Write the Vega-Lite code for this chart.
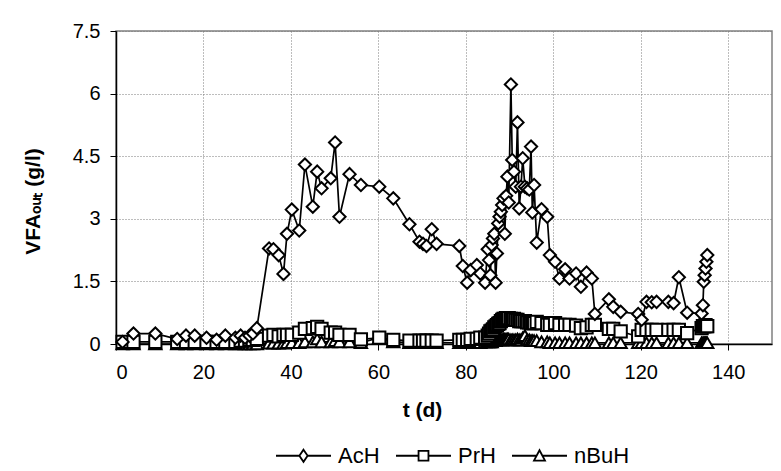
{
  "$schema": "https://vega.github.io/schema/vega-lite/v6.json",
  "width": 656,
  "height": 313,
  "autosize": {"type": "none"},
  "padding": {"left": 116, "top": 31, "right": 9, "bottom": 127},
  "background": "white",
  "config": {
    "font": "Liberation Sans",
    "view": {"stroke": "#808080", "strokeWidth": 1.5},
    "axis": {
      "domainColor": "black",
      "domainWidth": 1.5,
      "tickColor": "black",
      "tickSize": 6,
      "tickWidth": 1,
      "grid": true,
      "gridColor": "#7a7a7a",
      "gridDash": [1, 2],
      "gridWidth": 1,
      "labelFont": "Liberation Sans",
      "labelFontSize": 20,
      "labelColor": "black",
      "titleFont": "Liberation Sans",
      "titleFontSize": 21,
      "titleFontWeight": "bold",
      "titleColor": "black"
    }
  },
  "data": {
    "values": [
      {"t": 1.5, "AcH": 0.05, "PrH": 0.05, "nBuH": 0},
      {"t": 4, "AcH": 0.25, "PrH": 0.05, "nBuH": 0},
      {"t": 9, "AcH": 0.25, "PrH": 0.05, "nBuH": 0},
      {"t": 14, "AcH": 0.12, "PrH": 0.05, "nBuH": 0},
      {"t": 16, "AcH": 0.2, "PrH": 0.05, "nBuH": 0},
      {"t": 18, "AcH": 0.2, "PrH": 0.05, "nBuH": 0},
      {"t": 20.7, "AcH": 0.15, "PrH": 0.05, "nBuH": 0},
      {"t": 23, "AcH": 0.1, "PrH": 0.05, "nBuH": 0},
      {"t": 25, "AcH": 0.2, "PrH": 0.05, "nBuH": 0},
      {"t": 27.3, "AcH": 0.15, "PrH": 0.05, "nBuH": 0},
      {"t": 28.5, "AcH": 0.2, "PrH": 0.08, "nBuH": 0},
      {"t": 29.5, "AcH": 0.15, "PrH": 0.08, "nBuH": 0},
      {"t": 30.5, "AcH": 0.2, "PrH": 0.1, "nBuH": 0},
      {"t": 31.3, "AcH": 0.25, "PrH": 0.1, "nBuH": 0},
      {"t": 32.2, "AcH": 0.38, "PrH": 0.12, "nBuH": 0},
      {"t": 35, "AcH": 2.29, "PrH": 0.2, "nBuH": 0.02},
      {"t": 36, "AcH": 2.27, "PrH": 0.22, "nBuH": 0.02},
      {"t": 37.2, "AcH": 2.13, "PrH": 0.18, "nBuH": 0.02},
      {"t": 38.3, "AcH": 1.68, "PrH": 0.22, "nBuH": 0.02},
      {"t": 39.1, "AcH": 2.64, "PrH": 0.22, "nBuH": 0.03},
      {"t": 40.2, "AcH": 3.22, "PrH": 0.22, "nBuH": 0.03},
      {"t": 41.9, "AcH": 2.72, "PrH": 0.27, "nBuH": 0.03},
      {"t": 43.2, "AcH": 4.3, "PrH": 0.36, "nBuH": 0.05},
      {"t": 45, "AcH": 3.29, "PrH": 0.38, "nBuH": 0.05},
      {"t": 46, "AcH": 4.13, "PrH": 0.41, "nBuH": 0.12},
      {"t": 47, "AcH": 3.73, "PrH": 0.36, "nBuH": 0.05},
      {"t": 49.1, "AcH": 3.97, "PrH": 0.27, "nBuH": 0.05},
      {"t": 50.1, "AcH": 4.83, "PrH": 0.27, "nBuH": 0.08},
      {"t": 51.1, "AcH": 3.05, "PrH": 0.22, "nBuH": 0.05},
      {"t": 53.4, "AcH": 4.07, "PrH": 0.22, "nBuH": 0.05},
      {"t": 56, "AcH": 3.81, "PrH": 0.11, "nBuH": 0.03},
      {"t": 60.2, "AcH": 3.77, "PrH": 0.15, "nBuH": 0.15},
      {"t": 63.4, "AcH": 3.49, "PrH": 0.1, "nBuH": 0.05},
      {"t": 67.1, "AcH": 2.87, "PrH": 0.08, "nBuH": 0.03},
      {"t": 69.4, "AcH": 2.45, "PrH": 0.08, "nBuH": 0.03},
      {"t": 70.2, "AcH": 2.4, "PrH": 0.08, "nBuH": 0.03},
      {"t": 71, "AcH": 2.35, "PrH": 0.08, "nBuH": 0.03},
      {"t": 72.2, "AcH": 2.75, "PrH": 0.08, "nBuH": 0.03},
      {"t": 73.3, "AcH": 2.4, "PrH": 0.08, "nBuH": 0.03},
      {"t": 78.5, "AcH": 2.35, "PrH": 0.1, "nBuH": 0.03},
      {"t": 79.3, "AcH": 1.87, "PrH": 0.1, "nBuH": 0.03},
      {"t": 80.3, "AcH": 1.47, "PrH": 0.1, "nBuH": 0.03},
      {"t": 81.1, "AcH": 1.77, "PrH": 0.12, "nBuH": 0.03},
      {"t": 82.5, "AcH": 1.89, "PrH": 0.12, "nBuH": 0.03},
      {"t": 83.3, "AcH": 1.69, "PrH": 0.15, "nBuH": 0.03},
      {"t": 84.4, "AcH": 1.47, "PrH": 0.15, "nBuH": 0.05},
      {"t": 85, "AcH": 2.27, "PrH": 0.2, "nBuH": 0.05},
      {"t": 85.3, "AcH": 2.01, "PrH": 0.25, "nBuH": 0.05},
      {"t": 85.6, "AcH": 1.65, "PrH": 0.3, "nBuH": 0.05},
      {"t": 85.9, "AcH": 2.37, "PrH": 0.32, "nBuH": 0.05},
      {"t": 86.2, "AcH": 2.53, "PrH": 0.35, "nBuH": 0.08},
      {"t": 86.5, "AcH": 2.64, "PrH": 0.4, "nBuH": 0.08},
      {"t": 86.8, "AcH": 1.47, "PrH": 0.42, "nBuH": 0.08},
      {"t": 87.1, "AcH": 2.17, "PrH": 0.45, "nBuH": 0.1},
      {"t": 87.4, "AcH": 2.89, "PrH": 0.48, "nBuH": 0.1},
      {"t": 87.7, "AcH": 3.05, "PrH": 0.5, "nBuH": 0.1},
      {"t": 88, "AcH": 3.17, "PrH": 0.55, "nBuH": 0.1},
      {"t": 88.3, "AcH": 3.33, "PrH": 0.58, "nBuH": 0.1},
      {"t": 88.6, "AcH": 3.49, "PrH": 0.6, "nBuH": 0.12},
      {"t": 88.9, "AcH": 2.64, "PrH": 0.6, "nBuH": 0.12},
      {"t": 89.2, "AcH": 3.55, "PrH": 0.62, "nBuH": 0.12},
      {"t": 89.5, "AcH": 4.01, "PrH": 0.6, "nBuH": 0.12},
      {"t": 89.8, "AcH": 3.39, "PrH": 0.62, "nBuH": 0.12},
      {"t": 90.3, "AcH": 6.22, "PrH": 0.6, "nBuH": 0.1},
      {"t": 90.6, "AcH": 4.41, "PrH": 0.58, "nBuH": 0.1},
      {"t": 91, "AcH": 4.13, "PrH": 0.6, "nBuH": 0.1},
      {"t": 91.4, "AcH": 3.77, "PrH": 0.58, "nBuH": 0.1},
      {"t": 91.8, "AcH": 5.31, "PrH": 0.58, "nBuH": 0.12},
      {"t": 92.2, "AcH": 3.25, "PrH": 0.55, "nBuH": 0.1},
      {"t": 92.6, "AcH": 3.77, "PrH": 0.55, "nBuH": 0.1},
      {"t": 93, "AcH": 4.45, "PrH": 0.55, "nBuH": 0.15},
      {"t": 93.5, "AcH": 3.77, "PrH": 0.55, "nBuH": 0.2},
      {"t": 94, "AcH": 3.73, "PrH": 0.52, "nBuH": 0.1},
      {"t": 94.5, "AcH": 3.7, "PrH": 0.52, "nBuH": 0.1},
      {"t": 94.9, "AcH": 4.73, "PrH": 0.5, "nBuH": 0.08},
      {"t": 95.2, "AcH": 3.15, "PrH": 0.5, "nBuH": 0.08},
      {"t": 95.6, "AcH": 3.81, "PrH": 0.5, "nBuH": 0.08},
      {"t": 96.2, "AcH": 2.43, "PrH": 0.53, "nBuH": 0.08},
      {"t": 97.3, "AcH": 3.23, "PrH": 0.5, "nBuH": 0.05},
      {"t": 98.6, "AcH": 3.05, "PrH": 0.46, "nBuH": 0.05},
      {"t": 99.2, "AcH": 2.13, "PrH": 0.46, "nBuH": 0.03},
      {"t": 100.4, "AcH": 1.97, "PrH": 0.5, "nBuH": 0.03},
      {"t": 101.4, "AcH": 1.57, "PrH": 0.46, "nBuH": 0.03},
      {"t": 102.7, "AcH": 1.79, "PrH": 0.46, "nBuH": 0.03},
      {"t": 103.7, "AcH": 1.57, "PrH": 0.46, "nBuH": 0.03},
      {"t": 105.2, "AcH": 1.69, "PrH": 0.44, "nBuH": 0.03},
      {"t": 106.3, "AcH": 1.37, "PrH": 0.38, "nBuH": 0.03},
      {"t": 107.6, "AcH": 1.71, "PrH": 0.4, "nBuH": 0.03},
      {"t": 108.8, "AcH": 1.57, "PrH": 0.46, "nBuH": 0.03},
      {"t": 109.5, "AcH": 0.72, "PrH": 0.46, "nBuH": 0.03},
      {"t": 112.7, "AcH": 1.07, "PrH": 0.36, "nBuH": 0.03},
      {"t": 113.7, "AcH": 0.89, "PrH": 0.36, "nBuH": 0.03},
      {"t": 115.4, "AcH": 0.77, "PrH": 0.3, "nBuH": 0.03},
      {"t": 119.4, "AcH": 0.72, "PrH": 0.18, "nBuH": 0.03},
      {"t": 120.2, "AcH": 0.58, "PrH": 0.34, "nBuH": 0.03},
      {"t": 121.3, "AcH": 1.01, "PrH": 0.34, "nBuH": 0.03},
      {"t": 122.5, "AcH": 1.0, "PrH": 0.34, "nBuH": 0.03},
      {"t": 123.6, "AcH": 1.01, "PrH": 0.34, "nBuH": 0.03},
      {"t": 126.3, "AcH": 1.01, "PrH": 0.34, "nBuH": 0.03},
      {"t": 127.5, "AcH": 0.98, "PrH": 0.34, "nBuH": 0.03},
      {"t": 128.7, "AcH": 1.6, "PrH": 0.34, "nBuH": 0.03},
      {"t": 130.6, "AcH": 0.75, "PrH": 0.26, "nBuH": 0.03},
      {"t": 133.9, "AcH": 0.73, "PrH": 0.38, "nBuH": 0.03},
      {"t": 134.2, "AcH": 0.93, "PrH": 0.43, "nBuH": 0.03},
      {"t": 134.4, "AcH": 1.49, "PrH": 0.43, "nBuH": 0.03},
      {"t": 134.6, "AcH": 1.65, "PrH": 0.43, "nBuH": 0.03},
      {"t": 134.8, "AcH": 1.81, "PrH": 0.45, "nBuH": 0.03},
      {"t": 135, "AcH": 1.97, "PrH": 0.43, "nBuH": 0.03},
      {"t": 135.2, "AcH": 2.13, "PrH": 0.43, "nBuH": 0.03}
    ]
  },
  "transform": [
    {"fold": ["nBuH", "PrH", "AcH"], "as": ["key", "v"]},
    {"filter": "datum.v != null"}
  ],
  "encoding": {
    "x": {
      "field": "t",
      "type": "quantitative",
      "scale": {"domain": [0, 150], "nice": false, "zero": false},
      "axis": {
        "values": [0, 20, 40, 60, 80, 100, 120, 140],
        "labelExpr": "'' + datum.value",
        "title": "t (d)",
        "labelPadding": 12,
        "titleX": 306,
        "titleY": 66,
        "titleAlign": "center",
        "titleBaseline": "middle"
      }
    },
    "y": {
      "field": "v",
      "type": "quantitative",
      "scale": {"domain": [0, 7.5], "nice": false},
      "axis": {
        "values": [0, 1.5, 3, 4.5, 6, 7.5],
        "labelExpr": "'' + datum.value",
        "title": "VFAₒᵤₜ (g/l)",
        "labelPadding": 10,
        "titleX": -83,
        "titleY": 170,
        "titleAngle": -90,
        "titleAlign": "center",
        "titleBaseline": "middle"
      }
    }
  },
  "layer": [
    {
      "mark": {"type": "line", "color": "black", "strokeWidth": 1.7},
      "encoding": {"detail": {"field": "key"}}
    },
    {
      "mark": {"type": "point", "filled": false, "color": "black", "fill": "white", "fillOpacity": 1, "strokeWidth": 2, "opacity": 1, "size": 150},
      "encoding": {
        "shape": {
          "field": "key",
          "type": "nominal",
          "scale": {"domain": ["AcH", "PrH", "nBuH"], "range": ["diamond", "square", "triangle-up"]},
          "legend": null
        },
        "order": {"field": "key", "sort": "descending"}
      }
    },
    {
      "mark": {"type": "point", "filled": false, "color": "black", "fill": "white", "fillOpacity": 1, "strokeWidth": 1.5, "opacity": 1, "size": 0},
      "encoding": {
        "shape": {
          "field": "key",
          "type": "nominal",
          "scale": {
            "domain": ["AcH", "PrH", "nBuH"],
            "range": [
              "M-1,0L-0.15,0M0.15,0L1,0M0,-0.22L0.15,0L0,0.22L-0.15,0Z",
              "M-1,0L-0.18,0M0.18,0L1,0M-0.18,-0.18L0.18,-0.18L0.18,0.18L-0.18,0.18Z",
              "M-1,0L-0.1,0M0.1,0L1,0M0,-0.2L0.2,0.18L-0.2,0.18Z"
            ]
          },
          "legend": {
            "title": null,
            "orient": "none",
            "legendX": 159,
            "legendY": 396,
            "direction": "horizontal",
            "labelFont": "Liberation Sans",
            "labelFontSize": 22,
            "labelColor": "black",
            "labelOffset": 6,
            "columnPadding": 12,
            "symbolSize": 3025,
            "symbolStrokeWidth": 1.8
          }
        }
      }
    }
  ],
  "resolve": {"scale": {"shape": "independent"}, "legend": {"shape": "independent"}}
}
